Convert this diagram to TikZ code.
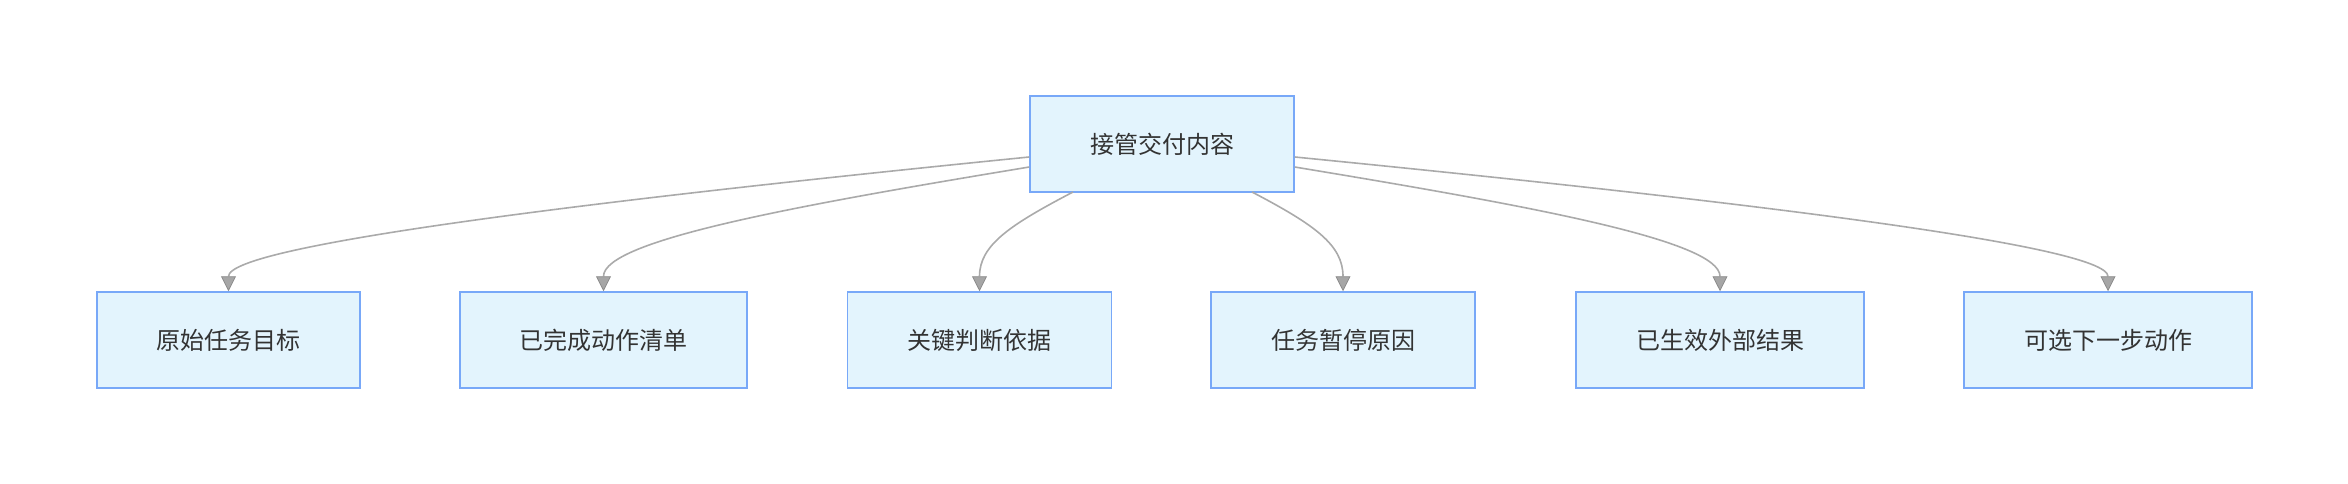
\documentclass[tikz,border=0pt]{standalone}
\usepackage{fontspec}
\newfontfamily\cjk{Noto Sans CJK SC}
\usetikzlibrary{arrows.meta}
\definecolor{boxfill}{HTML}{E3F4FD}
\definecolor{boxdraw}{HTML}{78A8F8}
\definecolor{txt}{HTML}{333333}
\definecolor{edge}{HTML}{AAAAAA}
\definecolor{tipfill}{HTML}{A6A6A6}
\definecolor{tipdraw}{HTML}{8C8C8C}
\begin{document}
\begin{tikzpicture}[x=1pt,y=-1pt,
  box/.style={draw=boxdraw, fill=boxfill, line width=1.5pt, inner sep=0pt,
    minimum height=96pt, text=txt, font=\cjk\fontsize{24}{28}\selectfont},
  link/.style={draw=edge, line width=1.6pt,
    -{Triangle[width=15pt,length=15pt,fill=tipfill,color=tipdraw,line width=0.8pt]}}]
\useasboundingbox (0,0) rectangle (2348,484);
\node[box, minimum width=264pt] (top) at (1162,144) {接管交付内容};
\node[box, minimum width=263pt] (b1) at (228.5,340) {原始任务目标};
\node[box, minimum width=287pt] (b2) at (603.5,340) {已完成动作清单};
\node[box, minimum width=264pt] (b3) at (979.5,340) {关键判断依据};
\node[box, minimum width=264pt] (b4) at (1343,340) {任务暂停原因};
\node[box, minimum width=288pt] (b5) at (1720,340) {已生效外部结果};
\node[box, minimum width=288pt] (b6) at (2108,340) {可选下一步动作};
\coordinate (s1) at (top.west |- 0,157);
\coordinate (s2) at (top.west |- 0,167);
\coordinate (s3) at (1073,192);
\coordinate (s4) at (1252,192);
\coordinate (s5) at (top.east |- 0,167);
\coordinate (s6) at (top.east |- 0,157);
\draw[link] (s1) .. controls (600,200) and (228.5,245) .. (b1.north);
\draw[link] (s2) .. controls (800,205) and (603.5,240) .. (b2.north);
\draw[link] (s3) .. controls (1010,225) and (979.5,245) .. (b3.north);
\draw[link] (s4) .. controls (1315,225) and (1343,245) .. (b4.north);
\draw[link] (s5) .. controls (1524,205) and (1720,240) .. (b5.north);
\draw[link] (s6) .. controls (1730,200) and (2108,245) .. (b6.north);
\end{tikzpicture}
\end{document}
